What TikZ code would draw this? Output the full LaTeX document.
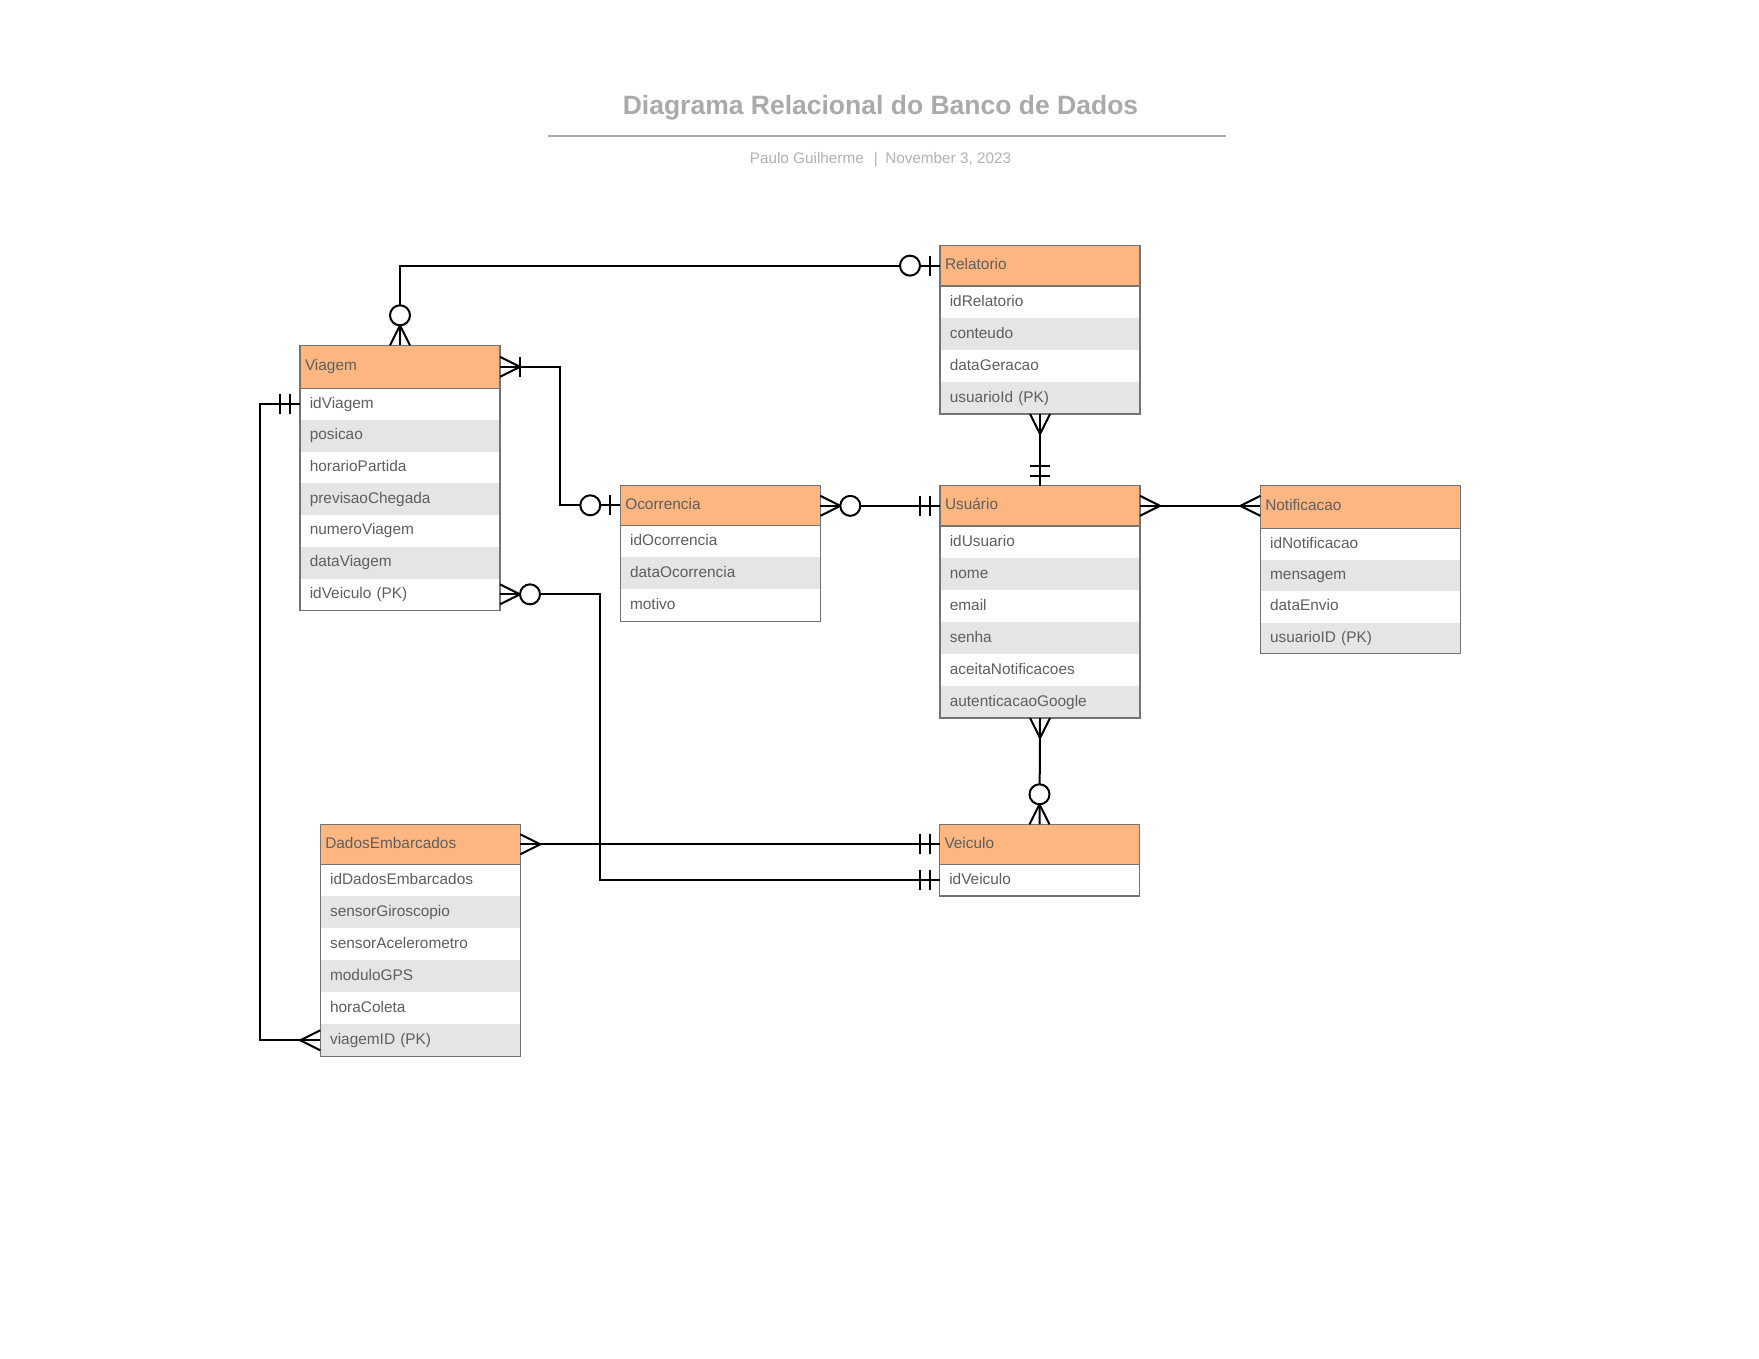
\documentclass[tikz,border=0pt]{standalone}
\usepackage{fontspec}
\setmainfont{Liberation Sans}
\usetikzlibrary{fit}
\definecolor{hdr}{RGB}{255,182,128}
\definecolor{stripe}{RGB}{229,229,229}
\definecolor{txt}{RGB}{94,94,94}
\definecolor{bord}{RGB}{115,115,115}
\definecolor{ttl}{RGB}{170,170,170}
\definecolor{subt}{RGB}{178,178,178}

\tikzset{
  conn/.style={draw=black, line width=2pt},
  hdrbox/.style={rectangle, fill=hdr, minimum width=200pt, inner xsep=5pt, inner ysep=0pt,
    text width=190pt, align=left, text height=11pt, text depth=3pt,
    font=\fontsize{15.4}{18}\selectfont, text=txt, anchor=north west, outer sep=0pt},
  rowbox/.style={rectangle, minimum width=200pt, inner xsep=9.8pt, inner ysep=0pt,
    text width=180.4pt, align=left, text height=11pt, text depth=3pt,
    font=\fontsize{15.4}{18}\selectfont, text=txt, anchor=north, outer sep=0pt},
  tblframe/.style={rectangle, draw=bord, line width=1.1pt, inner sep=0pt, outer sep=0pt},
  crowfoot/.pic={\draw[conn] (0,10) -- (20,0) -- (0,-10);},
  zeromany/.pic={\draw[conn] (0,10) -- (20,0) -- (0,-10);
                 \draw[conn, fill=white] (30,0) circle (10);},
  zeroone/.pic={\draw[conn] (10,-10) -- (10,10);
                \draw[conn, fill=white] (30,0) circle (10);},
  onemany/.pic={\draw[conn] (0,10) -- (20,0) -- (0,-10);
                \draw[conn] (20,-10) -- (20,10);},
  onlyone/.pic={\draw[conn] (10,-10) -- (10,10);
                \draw[conn] (20,-10) -- (20,10);}
}

% #1 name, #2 position, #3 header height, #4 row height, #5 title, #6 number of rows, #7 rows
\newcommand{\ertable}[7]{%
  \node[hdrbox, minimum height=#3] (#1) at #2 {#5};
  \coordinate (#1-0) at (#1.south);
  \foreach \r [count=\i] in {#7} {%
    \pgfmathtruncatemacro{\prev}{\i-1}%
    \ifodd\i\def\rowfill{white}\else\def\rowfill{stripe}\fi
    \node[rowbox, minimum height=#4, fill=\rowfill] (#1-\i) at (#1-\prev.south) {\r};
  }
  \draw[bord, line width=1.1pt] (#1.south west) -- (#1.south east);
  \node[tblframe, fit=(#1)(#1-#6)] (#1-box) {};
}

\begin{document}
\begin{tikzpicture}[x=1pt, y=1pt]
\useasboundingbox (0,0) rectangle (1759,-1359);
\fill[white] (0,0) rectangle (1759,-1359);

% Title block
\node[font=\bfseries\fontsize{26.5}{30}\selectfont, text=ttl, anchor=base, inner sep=0pt] (title) at (880.5,-115) {Diagrama Relacional do Banco de Dados};
\coordinate (rule-l) at (548,-135.7);
\coordinate (rule-r) at (1226,-135.7);
\draw[ttl, line width=2pt] (rule-l) -- (rule-r);
\node[font=\fontsize{15.3}{18}\selectfont, text=subt, anchor=base, inner sep=0pt] (subtitle) at (880.5,-163.3) {Paulo Guilherme\hspace{10pt}|\hspace{7.5pt}November 3, 2023};

% Tables
\ertable{viagem}{(300,-345.3)}{43pt}{31.7pt}{Viagem}{7}{idViagem,posicao,horarioPartida,previsaoChegada,numeroViagem,dataViagem,idVeiculo (PK)}
\ertable{relatorio}{(940,-245.3)}{40.7pt}{32pt}{Relatorio}{4}{idRelatorio,conteudo,dataGeracao,usuarioId (PK)}
\ertable{ocorrencia}{(620.3,-485.3)}{40pt}{32pt}{Ocorrencia}{3}{idOcorrencia,dataOcorrencia,motivo}
\ertable{usuario}{(940,-485.7)}{40.3pt}{32pt}{Usuário}{6}{idUsuario,nome,email,senha,aceitaNotificacoes,autenticacaoGoogle}
\ertable{notificacao}{(1260.3,-485.3)}{43pt}{31.4pt}{Notificacao}{4}{idNotificacao,mensagem,dataEnvio,usuarioID (PK)}
\ertable{dados}{(320.3,-824.3)}{40pt}{32pt}{DadosEmbarcados}{6}{idDadosEmbarcados,sensorGiroscopio,sensorAcelerometro,moduloGPS,horaColeta,viagemID (PK)}
\ertable{veiculo}{(939.5,-824.3)}{40pt}{31.7pt}{Veiculo}{1}{idVeiculo}

% attachment points on straight horizontal links
\coordinate (ocor-e) at (ocorrencia.east |- usuario.west);
\coordinate (noti-w) at (notificacao.west |- usuario.east);

% Connectors
\draw[conn] (viagem-box.north) |- (relatorio.west);
\draw[conn] (viagem.east) -- ++(60,0) |- (ocorrencia.west);
\draw[conn] (ocor-e) -- (usuario.west);
\draw[conn] (relatorio-box.south) -- (usuario.north);
\draw[conn] (usuario.east) -- (noti-w);
\draw[conn] (usuario-box.south) -- (veiculo.north);
\draw[conn] (viagem-7.east) -- ++(100,0) |- (veiculo-1.west);
\draw[conn] (dados.east) -- (veiculo.west);
\draw[conn] (viagem-1.west) -- ++(-40,0) |- (dados-6.west);

% End symbols
\pic[rotate=90] at (viagem-box.north) {zeromany};
\pic[rotate=180] at (relatorio.west) {zeroone};
\pic at (viagem.east) {onemany};
\pic[rotate=180] at (ocorrencia.west) {zeroone};
\pic at (ocor-e) {zeromany};
\pic[rotate=180] at (usuario.west) {onlyone};
\pic[rotate=-90] at (relatorio-box.south) {crowfoot};
\pic[rotate=90] at (usuario.north) {onlyone};
\pic at (usuario.east) {crowfoot};
\pic[rotate=180] at (noti-w) {crowfoot};
\pic[rotate=-90] at (usuario-box.south) {crowfoot};
\pic[rotate=90] at (veiculo.north) {zeromany};
\pic at (viagem-7.east) {zeromany};
\pic[rotate=180] at (veiculo-1.west) {onlyone};
\pic at (dados.east) {crowfoot};
\pic[rotate=180] at (veiculo.west) {onlyone};
\pic[rotate=180] at (viagem-1.west) {onlyone};
\pic[rotate=180] at (dados-6.west) {crowfoot};
\end{tikzpicture}
\end{document}
